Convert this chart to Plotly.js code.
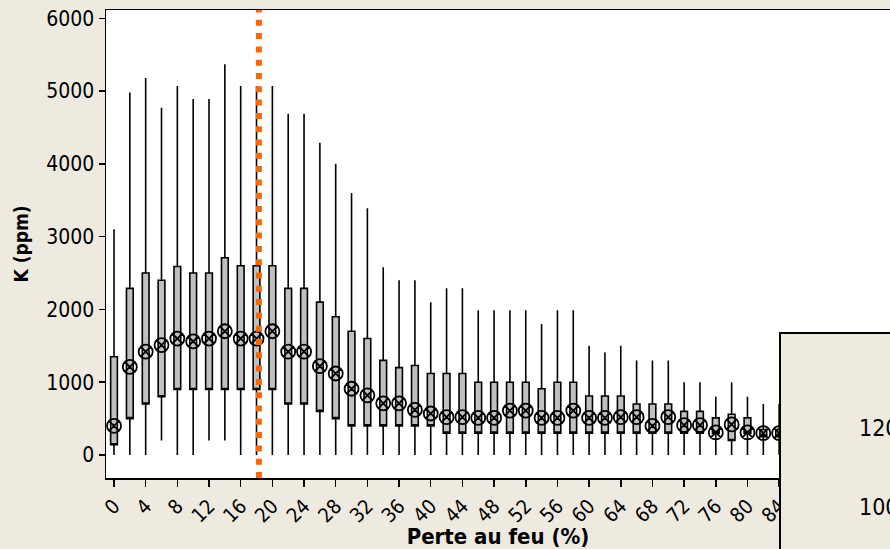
<!DOCTYPE html>
<html>
<head>
<meta charset="utf-8">
<script src="https://cdn.plot.ly/plotly-3.0.1.min.js"></script>
<style>
html,body{margin:0;padding:0;background:#EEEAE0;}
#chart{width:890px;height:549px;}
</style>
</head>
<body>
<div id="chart"></div>
<script>
// Perte au feu (%) class centres
const perte = [0,2,4,6,8,10,12,14,16,18,20,22,24,26,28,30,32,34,36,38,40,42,44,46,48,50,52,54,56,58,60,62,64,66,68,70,72,74,76,78,80,82,84];
// K (ppm) statistics per class
const lowerWhisker = [0,0,0,200,0,0,200,200,0,0,0,0,0,0,0,0,0,0,0,0,0,0,0,0,0,0,0,0,0,0,0,0,0,0,0,0,0,0,0,0,0,0,0];
const q1 = [140,500,700,800,900,900,900,900,900,900,900,700,700,600,500,400,400,400,400,400,400,300,300,300,300,300,300,300,300,300,300,300,300,300,300,300,300,300,300,200,300,250,250];
const q3 = [1350,2290,2500,2400,2590,2500,2500,2710,2600,2600,2600,2290,2290,2100,1900,1700,1600,1300,1200,1230,1120,1120,1120,1000,1000,1000,1000,910,1000,1000,810,810,810,700,700,700,600,600,510,560,510,350,350];
const upperWhisker = [3100,4980,5180,4770,5070,4890,4890,5370,5070,5070,5070,4690,4690,4290,4000,3600,3390,2580,2400,2400,2100,2290,2290,1990,1990,1990,1990,1800,1990,1990,1500,1410,1500,1300,1300,1300,1000,1000,800,1000,800,700,700];
const medianK = [400,1210,1420,1510,1600,1560,1600,1700,1600,1600,1700,1420,1420,1220,1120,910,820,710,710,620,570,520,520,510,510,610,610,510,510,610,510,510,520,520,400,520,410,410,310,420,310,300,300];
const refLine = 18.3;
const xTicks = [0,4,8,12,16,20,24,28,32,36,40,44,48,52,56,60,64,68,72,76,80,84,88,92,96];
const yTicks = [0,1000,2000,3000,4000,5000,6000];
const panelLabels = ['120','100'];

const FONT = '"DejaVu Sans Condensed", "DejaVu Sans", sans-serif';

const boxTrace = {
  type: 'box',
  x: perte,
  q1: q1,
  median: q1,
  q3: q3,
  lowerfence: lowerWhisker,
  upperfence: upperWhisker,
  boxpoints: false,
  whiskerwidth: 0,
  width: 0.85,
  fillcolor: '#C0C0C0',
  line: {color: '#000000', width: 1.6},
  hoverinfo: 'skip'
};

const medTrace = {
  type: 'scatter',
  mode: 'markers',
  x: perte,
  y: medianK,
  marker: {symbol: 'circle-x-open', size: 14, color: '#000000', line: {width: 1.8}},
  hoverinfo: 'skip'
};

const layout = {
  width: 890, height: 549,
  paper_bgcolor: '#EEEAE0',
  plot_bgcolor: '#FFFFFF',
  margin: {l: 106, r: 0, t: 10, b: 71},
  showlegend: false,
  font: {family: FONT, color: '#000000'},
  xaxis: {
    range: [-1.01, 98],
    tickmode: 'array', tickvals: xTicks, ticktext: xTicks.map(String),
    tickangle: -45,
    ticks: 'outside', ticklen: 7, tickwidth: 1.5, tickcolor: '#000000',
    showline: true, linecolor: '#000000', linewidth: 1.5, mirror: true,
    showgrid: false, zeroline: false,
    tickfont: {family: FONT, size: 20, color: '#000000'},
    title: {text: 'Perte au feu (%)', font: {family: FONT, size: 22, weight: 'bold', color: '#000000'}, standoff: 2}
  },
  yaxis: {
    range: [-316, 6114],
    tickmode: 'array', tickvals: yTicks, ticktext: yTicks.map(String),
    ticks: 'outside', ticklen: 6, tickwidth: 1.5, tickcolor: '#000000',
    showline: true, linecolor: '#000000', linewidth: 1.5, mirror: false,
    showgrid: false, zeroline: false,
    tickfont: {family: FONT, size: 21, color: '#000000'},
    title: {text: 'K (ppm)', font: {family: FONT, size: 19, weight: 'bold', color: '#000000'}, standoff: 12}
  },
  shapes: [
    {type: 'line', xref: 'x', yref: 'paper', x0: refLine, x1: refLine, y0: 0, y1: 1,
     line: {color: '#FF6600', width: 6, dash: '6px,7.3px'}},
    {type: 'rect', xref: 'paper', yref: 'paper', x0: 0.8597, x1: 1.3, y0: -0.5, y1: 0.3098,
     fillcolor: '#EEEAE0', line: {color: '#000000', width: 2}}
  ],
  annotations: [
    {xref: 'paper', yref: 'paper', x: 0.958, y: 0.107, xanchor: 'left', yanchor: 'middle',
     text: panelLabels[0], showarrow: false, font: {family: FONT, size: 23, color: '#000000'}},
    {xref: 'paper', yref: 'paper', x: 0.958, y: -0.062, xanchor: 'left', yanchor: 'middle',
     text: panelLabels[1], showarrow: false, font: {family: FONT, size: 23, color: '#000000'}}
  ]
};

Plotly.newPlot('chart', [boxTrace, medTrace], layout, {displayModeBar: false, staticPlot: true});
</script>
</body>
</html>
